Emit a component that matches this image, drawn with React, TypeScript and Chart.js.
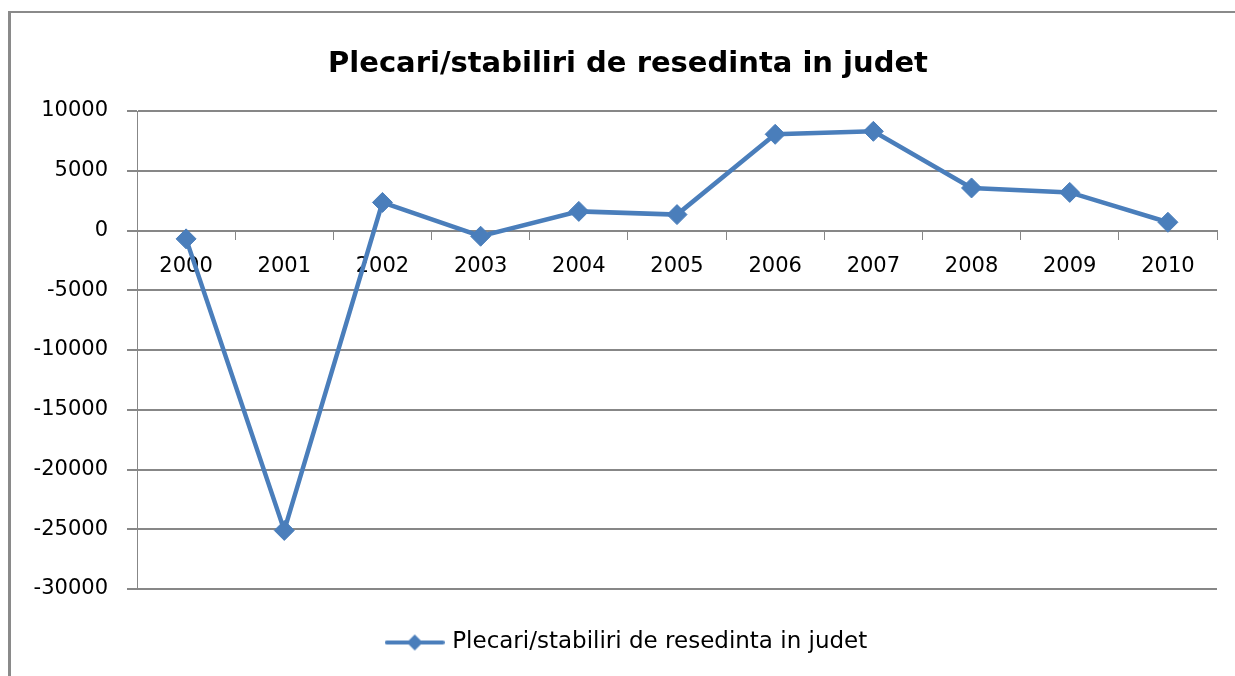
import { useEffect, useRef } from "react";
import { Chart, registerables } from "chart.js";

Chart.register(...registerables);

const chartTitle = "Plecari/stabiliri de resedinta in judet";
const seriesName = "Plecari/stabiliri de resedinta in judet";
const years = ["2000", "2001", "2002", "2003", "2004", "2005", "2006", "2007", "2008", "2009", "2010"];
const values = [-700, -25100, 2350, -480, 1600, 1330, 8050, 8300, 3560, 3190, 690];
const yMin = -30000;
const yMax = 10000;
const yStep = 5000;

const BLUE = "#4A7EBB";
const GRID = "#878787";
const FONT = "'DejaVu Sans', sans-serif";

function makeLegendSymbol(): HTMLCanvasElement {
  const c = document.createElement("canvas");
  c.width = 60;
  c.height = 20;
  const ctx = c.getContext("2d")!;
  ctx.strokeStyle = BLUE;
  ctx.lineWidth = 4;
  ctx.lineCap = "round";
  ctx.beginPath();
  ctx.moveTo(2, 10);
  ctx.lineTo(58, 10);
  ctx.stroke();
  ctx.fillStyle = BLUE;
  ctx.beginPath();
  ctx.moveTo(30, 2);
  ctx.lineTo(38, 10);
  ctx.lineTo(30, 18);
  ctx.lineTo(22, 10);
  ctx.closePath();
  ctx.fill();
  return c;
}

export default function App() {
  const ref = useRef<HTMLCanvasElement | null>(null);

  useEffect(() => {
    if (!ref.current) return;
    const symbol = makeLegendSymbol();
    const chart = new Chart(ref.current, {
      type: "line",
      data: {
        labels: years,
        datasets: [
          {
            label: seriesName,
            data: values,
            xAxisID: "x",
            yAxisID: "y",
            borderColor: BLUE,
            backgroundColor: BLUE,
            borderWidth: 4.5,
            pointStyle: "rectRot",
            pointRadius: 10,
            pointBorderWidth: 1,
            pointBackgroundColor: BLUE,
            pointBorderColor: BLUE,
            tension: 0,
            clip: false as any,
          },
        ],
      },
      options: {
        animation: false,
        responsive: false,
        layout: { padding: { left: 21, right: 0, top: 0, bottom: 12 } },
        plugins: {
          title: {
            display: true,
            text: chartTitle,
            color: "#000",
            font: { family: FONT, size: 29, weight: "bold", lineHeight: 1.2 },
            padding: { top: 46.6, bottom: 29.6 },
          },
          legend: {
            display: true,
            position: "bottom",
            labels: {
              color: "#000",
              font: { family: FONT, size: 23 },
              usePointStyle: true,
              pointStyleWidth: 52,
              padding: 10,
              generateLabels: () => [
                {
                  text: seriesName,
                  pointStyle: symbol as any,
                  fillStyle: BLUE,
                  strokeStyle: BLUE,
                  lineWidth: 0,
                  hidden: false,
                  datasetIndex: 0,
                },
              ],
            },
          },
          tooltip: { enabled: false },
        },
        scales: {
          x: {
            type: "category",
            position: { y: 0 } as any,
            offset: true,
            grid: {
              display: true,
              drawOnChartArea: false,
              drawTicks: true,
              tickLength: 8,
              offset: true,
              color: GRID,
              lineWidth: 1,
            },
            border: { display: true, color: GRID, width: 2 },
            ticks: {
              color: "#000",
              font: { family: FONT, size: 21 },
              padding: 15,
              maxRotation: 0,
              autoSkip: false,
            },
          },
          padBottom: {
            type: "linear",
            axis: "x",
            position: "bottom",
            display: true,
            grid: { display: false },
            border: { display: false },
            ticks: { display: false },
            afterFit: (s: any) => {
              s.height = 32;
            },
          } as any,
          padRight: {
            type: "linear",
            axis: "y",
            position: "right",
            display: true,
            grid: { display: false },
            border: { display: false },
            ticks: { display: false },
            afterFit: (s: any) => {
              s.width = 18;
            },
          } as any,
          y: {
            type: "linear",
            position: "left",
            min: yMin,
            max: yMax,
            grid: {
              color: GRID,
              lineWidth: 2,
              drawTicks: true,
              tickLength: 10,
            },
            border: { display: true, color: GRID, width: 1 },
            ticks: {
              stepSize: yStep,
              color: "#000",
              font: { family: FONT, size: 21 },
              padding: 19,
              callback: (v: any) => String(v),
            },
            afterFit: (s: any) => {
              s.width = 116;
            },
          },
        },
      },
    });
    return () => chart.destroy();
  }, []);

  return (
    <div style={{ position: "fixed", left: 0, top: 0, width: 1235, height: 676, background: "#fff", overflow: "hidden" }}>
      <div
        style={{
          position: "absolute",
          left: 8,
          top: 11,
          width: 1300,
          height: 700,
          borderLeft: "3px solid #8a8a8a",
          borderTop: "2px solid #8a8a8a",
        }}
      />
      <canvas ref={ref} width={1235} height={676} style={{ position: "absolute", left: 0, top: 0, width: 1235, height: 676 }} />
    </div>
  );
}
